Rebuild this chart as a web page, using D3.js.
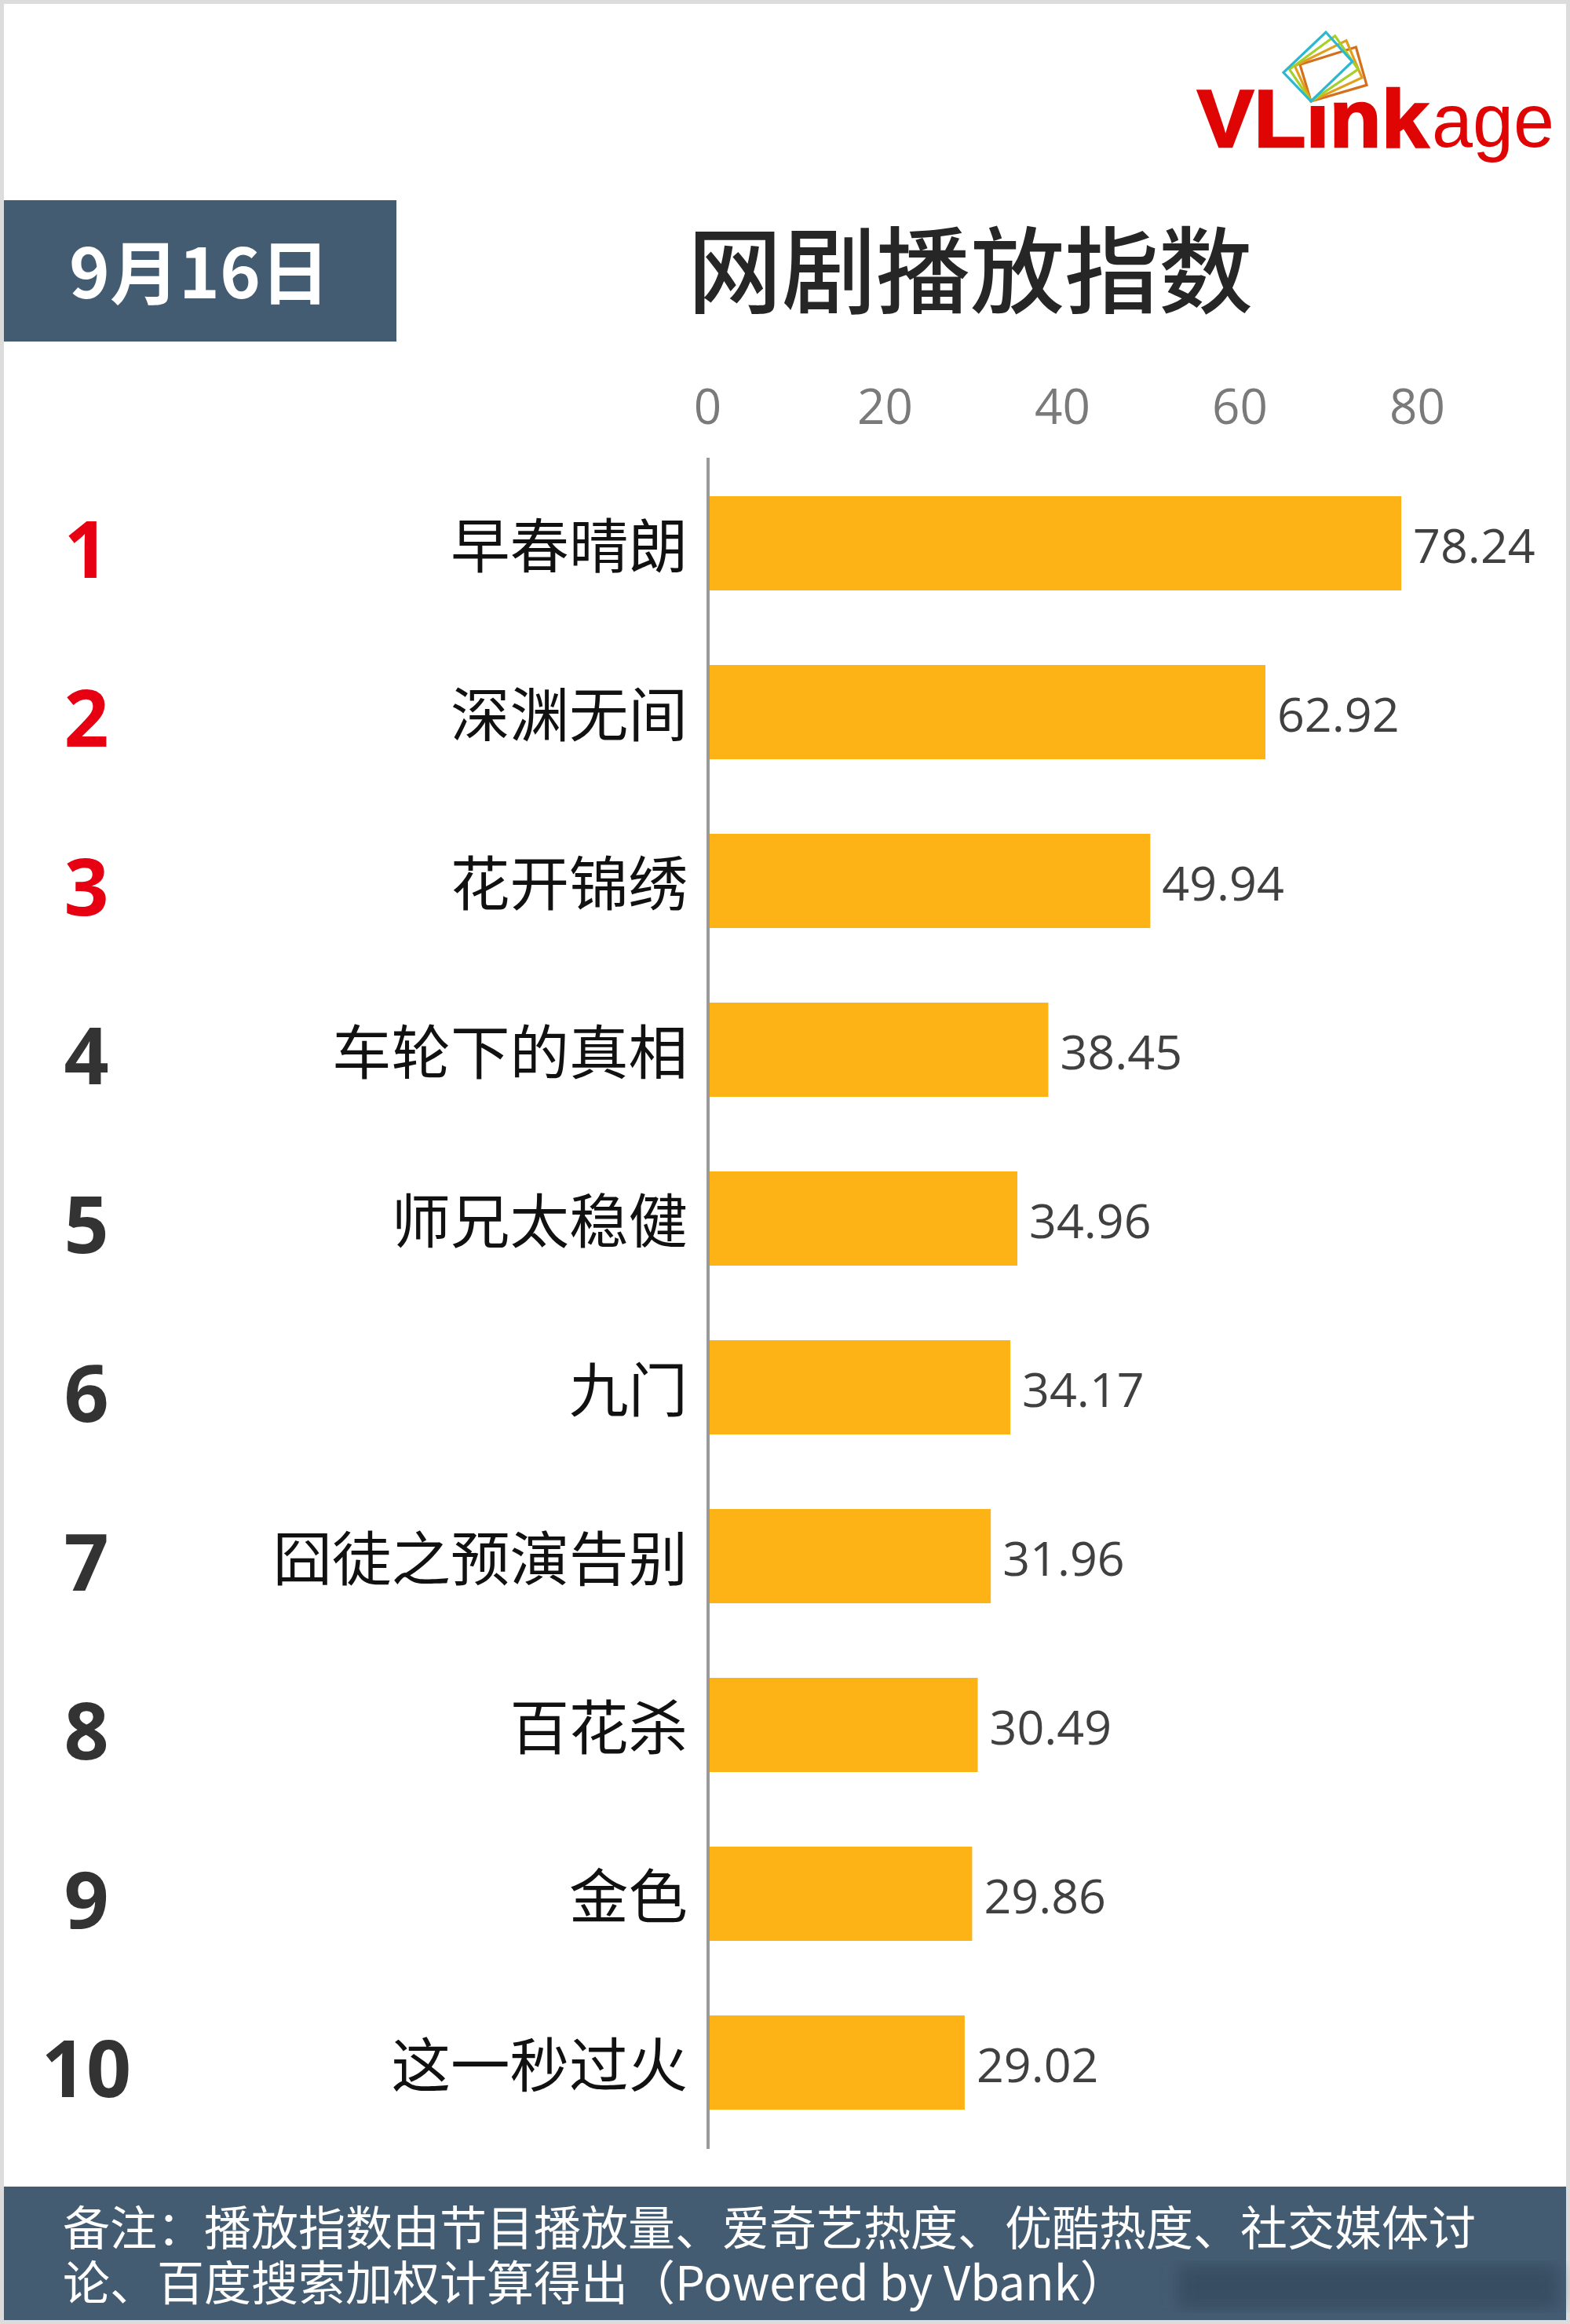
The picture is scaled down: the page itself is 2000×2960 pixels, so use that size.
<!DOCTYPE html>
<html>
<head>
<meta charset="utf-8">
<script src="https://cdn.jsdelivr.net/npm/d3@7"></script>
<style>
  html, body { margin: 0; padding: 0; background: #dcdcdc; }
  svg { display: block; }
</style>
</head>
<body>
<svg id="chart"></svg>
<script>
const names = ["早春晴朗", "深渊无间", "花开锦绣", "车轮下的真相", "师兄太稳健", "九门", "囧徒之预演告别", "百花杀", "金色", "这一秒过火"];
const values = [78.24, 62.92, 49.94, 38.45, 34.96, 34.17, 31.96, 30.49, 29.86, 29.02];
const ranks = [1, 2, 3, 4, 5, 6, 7, 8, 9, 10];
const xTicks = [0, 20, 40, 60, 80];
const noteLines = [
  "备注：播放指数由节目播放量、爱奇艺热度、优酷热度、社交媒体讨",
  "论、百度搜索加权计算得出（Powered by Vbank）"
];
// logo frames, back to front
const logoColors = ["#d4701c", "#e0a01e", "#a3d02a", "#2bb8d0"];
const logoFrames = [
  [[742, 180], [783, 325], [570, 387], [528, 247]],
  [[705, 155], [765, 297], [570, 387], [508, 252]],
  [[662, 137], [750, 265], [570, 387], [488, 265]],
  [[627, 123], [728, 235], [570, 387], [465, 277]]
];

const width = 2000;
const height = 2960;
const cjk = "'Noto Sans CJK SC', sans-serif";
const latin = "'Open Sans', 'Noto Sans CJK SC', sans-serif";
const slate = "#445c72";

const svg = d3.select("#chart").attr("width", width).attr("height", height);

// page
svg.append("rect").attr("x", 5).attr("y", 5).attr("width", 1990).attr("height", 2950).attr("fill", "#ffffff");

// scales
const x = d3.scaleLinear().domain([0, 80]).range([901, 1805]);
const y = d3.scaleBand().domain(names).range([632, 632 + 215 * 10 - 95]).paddingInner(95 / 215);

// logo
const logo = svg.append("g");
logo.append("text")
  .attr("x", 1525).attr("y", 187)
  .attr("fill", "#df0505")
  .attr("stroke", "#df0505")
  .attr("stroke-width", 2.5)
  .attr("font-family", "'Liberation Sans', Arial, sans-serif")
  .attr("font-weight", "bold")
  .attr("font-size", 103)
  .attr("textLength", 295)
  .attr("lengthAdjust", "spacingAndGlyphs")
  .text("VLink");
logo.append("text")
  .attr("x", 1824).attr("y", 187)
  .attr("fill", "#df0505")
  .attr("font-family", "'Liberation Sans', Arial, sans-serif")
  .attr("font-size", 96)
  .attr("textLength", 156)
  .attr("lengthAdjust", "spacingAndGlyphs")
  .text("age");
// the frames sit where the dot of the i would be
logo.append("rect").attr("x", 1664).attr("y", 108).attr("width", 34).attr("height", 27).attr("fill", "#ffffff");
logoFrames.forEach((f, i) => {
  logo.append("path")
    .attr("d", d3.line()(f.map(p => [1480 + p[0] / 3, p[1] / 3])) + "Z")
    .attr("fill", "none")
    .attr("stroke", logoColors[i])
    .attr("stroke-width", 3.2);
});

// date box and title
svg.append("rect").attr("x", 5).attr("y", 255).attr("width", 500).attr("height", 180).attr("fill", slate);
svg.append("text")
  .attr("x", 254).attr("y", 380)
  .attr("text-anchor", "middle")
  .attr("fill", "#ffffff")
  .attr("font-family", cjk)
  .attr("font-weight", "bold")
  .attr("font-size", 88)
  .text("9月16日");
svg.append("text")
  .attr("x", 1236).attr("y", 390)
  .attr("text-anchor", "middle")
  .attr("fill", "#262626")
  .attr("font-family", cjk)
  .attr("font-weight", "500")
  .attr("font-size", 120)
  .text("网剧播放指数");

// top axis
const axis = svg.append("g")
  .attr("transform", "translate(0,540)")
  .call(d3.axisTop(x).tickValues(xTicks).tickSize(0).tickPadding(0));
axis.select(".domain").remove();
axis.selectAll("text")
  .attr("fill", "#7a7a7a")
  .attr("font-family", latin)
  .attr("font-size", 62);

// bars
svg.append("g").selectAll("rect")
  .data(names)
  .join("rect")
  .attr("x", x(0))
  .attr("y", d => y(d))
  .attr("width", (d, i) => x(values[i]) - x(0))
  .attr("height", y.bandwidth())
  .attr("fill", "#fdb316");

// baseline
svg.append("line")
  .attr("x1", x(0) + 1).attr("x2", x(0) + 1)
  .attr("y1", 583).attr("y2", 2737)
  .attr("stroke", "#9a9a9a")
  .attr("stroke-width", 4);

// value labels
svg.append("g").selectAll("text")
  .data(names)
  .join("text")
  .attr("x", (d, i) => x(values[i]) + 15)
  .attr("y", d => y(d) + y.bandwidth() / 2 + 25)
  .attr("fill", "#404040")
  .attr("font-family", latin)
  .attr("font-size", 61)
  .text((d, i) => values[i].toFixed(2));

// category labels
svg.append("g").selectAll("text")
  .data(names)
  .join("text")
  .attr("x", 876)
  .attr("y", d => y(d) + y.bandwidth() / 2 + 31)
  .attr("text-anchor", "end")
  .attr("fill", "#111111")
  .attr("font-family", cjk)
  .attr("font-size", 75.5)
  .text(d => d);

// rank numbers
svg.append("g").selectAll("text")
  .data(ranks)
  .join("text")
  .attr("x", 110)
  .attr("y", (d, i) => y(names[i]) + y.bandwidth() / 2 + 44)
  .attr("text-anchor", "middle")
  .attr("fill", d => d <= 3 ? "#e60012" : "#333333")
  .attr("font-family", latin)
  .attr("font-weight", "bold")
  .attr("font-size", 100)
  .text(d => d);

// footer
svg.append("defs").append("filter").attr("id", "smudge")
  .append("feGaussianBlur").attr("stdDeviation", 10);
svg.append("rect").attr("x", 5).attr("y", 2785).attr("width", 1990).attr("height", 170).attr("fill", slate);
svg.append("rect")
  .attr("x", 1500).attr("y", 2885).attr("width", 485).attr("height", 55)
  .attr("fill", "#394e62")
  .attr("filter", "url(#smudge)");
svg.append("text")
  .attr("fill", "#ffffff")
  .attr("font-family", cjk)
  .attr("font-size", 60)
  .selectAll("tspan")
  .data(noteLines)
  .join("tspan")
  .attr("x", 80)
  .attr("y", (d, i) => 2860 + i * 70)
  .text(d => d);
</script>
</body>
</html>
